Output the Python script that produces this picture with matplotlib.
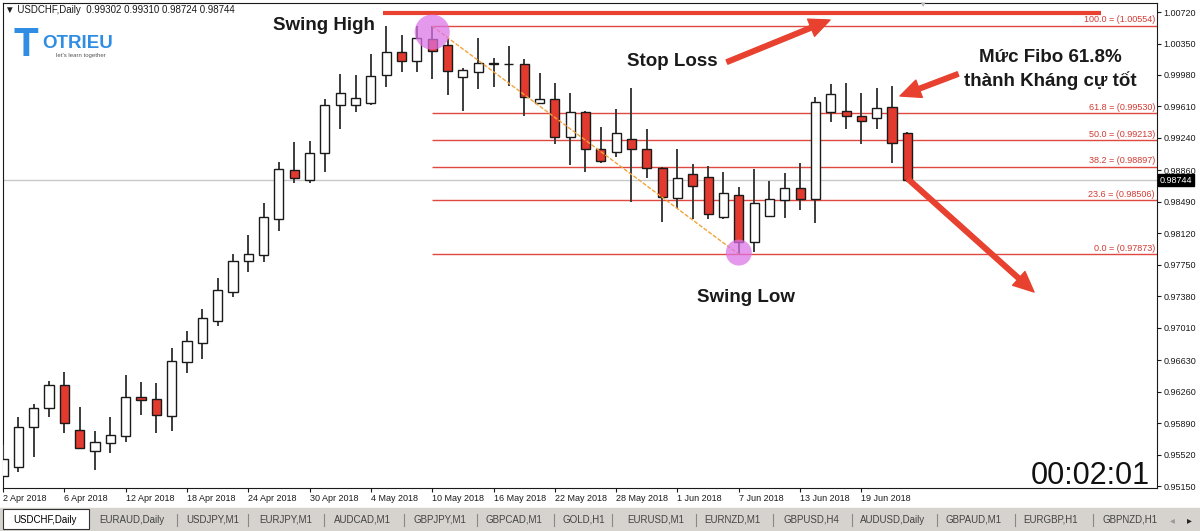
import matplotlib
matplotlib.use("Agg")
import matplotlib.pyplot as plt
from matplotlib.patches import Rectangle

plt.rcParams["font.family"] = ["Liberation Sans", "DejaVu Sans"]

W, H = 1200, 531

# USDCHF daily, 2 Apr 2018 -> 22 Jun 2018 (giá)
opens = [0.95268, 0.95373, 0.95843, 0.96067, 0.96337, 0.95808, 0.95561, 0.95655, 0.95738, 0.96196,
         0.96172, 0.95973, 0.96607, 0.96830, 0.97089, 0.97430, 0.97794, 0.97865, 0.98288, 0.98863,
         0.98746, 0.99063, 0.99627, 0.99627, 0.99651, 0.99980, 1.00250, 1.00144, 1.00403, 1.00332,
         0.99956, 1.00015, 1.00109, 1.00104, 1.00109, 0.99651, 0.99698, 0.99251, 0.99545, 0.99110,
         0.99075, 0.99228, 0.99110, 0.98887, 0.98534, 0.98816, 0.98781, 0.98311, 0.98570, 0.98017,
         0.98323, 0.98511, 0.98652, 0.98523, 0.99545, 0.99557, 0.99498, 0.99474, 0.99604, 0.99302]
highs = [0.95632, 0.95961, 0.96114, 0.96384, 0.96490, 0.96078, 0.95796, 0.95961, 0.96454, 0.96372,
         0.96360, 0.96772, 0.96971, 0.97230, 0.97594, 0.97876, 0.98100, 0.98476, 0.98957, 0.99192,
         0.99204, 0.99698, 0.99991, 0.99980, 1.00226, 1.00555, 1.00450, 1.00555, 1.00554, 1.00403,
         1.00062, 1.00414, 1.00179, 1.00320, 1.00168, 1.00003, 0.99886, 0.99768, 0.99557, 0.99369,
         0.99580, 0.99827, 0.99345, 0.98899, 0.99110, 0.98934, 0.98910, 0.98840, 0.98664, 0.98875,
         0.98734, 0.98828, 0.98946, 0.99721, 0.99874, 0.99886, 0.99768, 0.99827, 0.99850, 0.99310]
lows = [0.95256, 0.95315, 0.95491, 0.95961, 0.95773, 0.95597, 0.95338, 0.95538, 0.95667, 0.95984,
        0.95773, 0.95796, 0.96478, 0.96642, 0.97030, 0.97371, 0.97665, 0.97782, 0.98147, 0.98711,
        0.98711, 0.98840, 0.99345, 0.99545, 0.99627, 0.99839, 1.00015, 1.00015, 0.99933, 0.99745,
        0.99557, 0.99815, 0.99839, 0.99850, 0.99498, 0.99639, 0.99169, 0.98922, 0.98840, 0.98946,
        0.99016, 0.98487, 0.98769, 0.98252, 0.98417, 0.98288, 0.98288, 0.98288, 0.97873, 0.97900,
        0.98323, 0.98299, 0.98393, 0.98241, 0.99427, 0.99345, 0.99169, 0.99345, 0.98946, 0.98724]
closes = [0.95467, 0.95843, 0.96067, 0.96337, 0.95890, 0.95597, 0.95667, 0.95749, 0.96196, 0.96161,
          0.95984, 0.96619, 0.96854, 0.97124, 0.97453, 0.97794, 0.97876, 0.98311, 0.98875, 0.98769,
          0.99063, 0.99627, 0.99768, 0.99709, 0.99968, 1.00250, 1.00144, 1.00414, 1.00262, 1.00027,
          1.00038, 1.00121, 1.00121, 1.00109, 0.99721, 0.99698, 0.99251, 0.99545, 0.99110, 0.98969,
          0.99298, 0.99110, 0.98887, 0.98546, 0.98769, 0.98675, 0.98346, 0.98593, 0.98017, 0.98476,
          0.98523, 0.98652, 0.98523, 0.99662, 0.99756, 0.99498, 0.99439, 0.99592, 0.99181, 0.98744]

date_labels = ["2 Apr 2018", "6 Apr 2018", "12 Apr 2018", "18 Apr 2018", "24 Apr 2018",
               "30 Apr 2018", "4 May 2018", "10 May 2018", "16 May 2018", "22 May 2018",
               "28 May 2018", "1 Jun 2018", "7 Jun 2018", "13 Jun 2018", "19 Jun 2018"]
label_step = 4

price_ticks = [1.00720, 1.00350, 0.99980, 0.99610, 0.99240, 0.98860, 0.98490, 0.98120,
               0.97750, 0.97380, 0.97010, 0.96630, 0.96260, 0.95890, 0.95520, 0.95150]

fib_levels = [0.0, 23.6, 38.2, 50.0, 61.8, 100.0]
fib_prices = [0.97873, 0.98506, 0.98897, 0.99213, 0.99530, 1.00554]
swing_high_bar = 28
swing_low_bar = 48
stop_loss = 1.00708

tabs = ["USDCHF,Daily", "EURAUD,Daily", "USDJPY,M1", "EURJPY,M1", "AUDCAD,M1", "GBPJPY,M1",
        "GBPCAD,M1", "GOLD,H1", "EURUSD,M1", "EURNZD,M1", "GBPUSD,H4", "AUDUSD,Daily",
        "GBPAUD,M1", "EURGBP,H1", "GBPNZD,H1"]
tab_x = [45, 132, 213, 286, 362, 440, 514, 584, 656, 732, 811, 893, 974, 1051, 1130]
tab_sep = [177, 248, 324, 404, 477, 554, 612, 696, 773, 852, 937, 1015, 1093]

RED = "#E23A2F"
FIB = "#E0493F"
ARROW = "#E8412F"
INK = "#1A1A1A"


def px(x, y):
    """toạ độ pixel ảnh gốc -> figure fraction"""
    return x / W, 1 - y / H


fig = plt.figure(figsize=(W / 100, H / 100), dpi=100)
fig.patch.set_facecolor("white")
ax = fig.add_axes([2.5 / W, 1 - 488 / H, (1157 - 2.5) / W, (488 - 3) / H])
ax.set_xlim(-0.03, 75.28)
ax.set_ylim(0.95127, 1.00826)
xmax = ax.get_xlim()[1]

# nến
xs = list(range(len(opens)))
fills = [RED if c < o else "white" for o, c in zip(opens, closes)]
bottoms = [min(o, c) for o, c in zip(opens, closes)]
heights = [max(abs(c - o), 0.00001) for o, c in zip(opens, closes)]
ax.vlines(xs, lows, highs, color="#3C3C3C", lw=1.4, zorder=3)
ax.bar(xs, heights, bottom=bottoms, width=0.6, color=fills, edgecolor=INK, lw=1.0, zorder=4)

# giá hiện tại
ax.axhline(closes[-1], color="#C8C8C8", lw=1.0, zorder=0.5)

# Fibonacci
ax.hlines(fib_prices, swing_high_bar, xmax, color=FIB, lw=1.0, zorder=1)
for lvl, p in zip(fib_levels, fib_prices):
    ax.annotate(f"{lvl:.1f} = ({p:.5f})", xy=(xmax, p), xytext=(-1.5, 1.2),
                textcoords="offset points", ha="right", va="bottom",
                fontsize=6.5, color="#D23A32", annotation_clip=False)
ax.plot([swing_high_bar, swing_low_bar], [fib_prices[-1], fib_prices[0]],
        color="#F2A33A", lw=1.0, ls=(0, (3, 1.2)), zorder=5)

# đường stop loss
ax.hlines(stop_loss, 24.8, 71.6, color=ARROW, lw=3.0, zorder=6)

# vòng tròn swing
ax.scatter([swing_high_bar], [highs[swing_high_bar] - 0.0007], s=640, color="#DC72E6",
           alpha=0.72, edgecolors="none", zorder=7)
ax.scatter([swing_low_bar], [lows[swing_low_bar] + 0.0002], s=350, color="#DC72E6",
           alpha=0.72, edgecolors="none", zorder=7)

# trục
ax.yaxis.tick_right()
ax.set_yticks(price_ticks)
ax.set_yticklabels([f"{p:.5f}" for p in price_ticks])
ax.tick_params(axis="y", length=3, width=0.8, pad=1.5, labelsize=6.5, colors=INK)
ax.set_xticks(xs[::label_step])
ax.set_xticklabels(date_labels, ha="left")
ax.tick_params(axis="x", length=3, width=0.8, pad=1.5, labelsize=6.5, colors=INK)
for s in ax.spines.values():
    s.set_color(INK)
    s.set_linewidth(0.8)

ax.annotate(f"{closes[-1]:.5f}", xy=(1, closes[-1]), xycoords=("axes fraction", "data"),
            xytext=(2, 0), textcoords="offset points", ha="left", va="center",
            fontsize=6.5, color="white", annotation_clip=False,
            bbox=dict(boxstyle="square,pad=0.15", fc="black", ec="black"))

# tiêu đề / logo
fig.text(*px(5, 13), f"\u25bc USDCHF,Daily  {opens[-1]:.5f} {highs[-1]:.5f} {lows[-1]:.5f} {closes[-1]:.5f}",
         fontsize=7, color=INK, va="baseline")
fig.text(*px(922, 7), "\u25bc", fontsize=6, color="#BBBBBB", ha="center", va="baseline")
fig.text(*px(13, 56), "T", fontsize=29, fontweight="heavy", color="#2F8DE4", va="baseline")
fig.text(*px(42, 48), "OTRIEU", fontsize=13.5, fontweight="bold", color="#2F8DE4", va="baseline")
fig.text(*px(56, 57), "let's learn together", fontsize=4.3, color="#555555", va="baseline")

# chú thích
ann = dict(fontsize=13.5, fontweight="bold", color=INK, ha="center", va="center")
fig.text(*px(324, 26), "Swing High", **ann)
fig.text(*px(672, 61), "Stop Loss", **ann)
fig.text(*px(746, 298), "Swing Low", **ann)
fig.text(*px(1050, 57), "Mức Fibo 61.8%", **ann)
fig.text(*px(1050, 81), "thành Kháng cự tốt", **ann)

arrowstyle = "simple,head_length=1.05,head_width=0.95,tail_width=0.24"
for tail, tip in [((727, 62), (830, 20)), ((958, 74), (900, 96)), ((908, 179), (1034, 292))]:
    ax.annotate("", xy=px(*tip), xycoords="figure fraction", xytext=px(*tail),
                textcoords="figure fraction", annotation_clip=False,
                arrowprops=dict(arrowstyle=arrowstyle, color=ARROW, mutation_scale=14,
                                shrinkA=0, shrinkB=0), zorder=8)

fig.text(*px(1150, 484), "00:02:01", fontsize=22, color="#111111", ha="right", va="baseline")

# thanh tab
fig.add_artist(Rectangle((0, 0), 1, 23 / H, transform=fig.transFigure, color="#D6D3CE", zorder=0))
fig.add_artist(Rectangle(px(3, 529), 86 / W, 20 / H, transform=fig.transFigure,
                         fc="white", ec="#333333", lw=0.8, zorder=1))
for i, (name, x) in enumerate(zip(tabs, tab_x)):
    fig.text(*px(x, 520), name, fontsize=7, ha="center", va="center",
             color="black" if i == 0 else "#444444")
for x in tab_sep:
    fig.add_artist(plt.Line2D([x / W, x / W], [5 / H, 17 / H], color="#888888", lw=0.8,
                              transform=fig.transFigure))
fig.text(*px(1172, 520), "\u25c2", fontsize=7, ha="center", va="center", color="#999999")
fig.text(*px(1189, 520), "\u25b8", fontsize=7, ha="center", va="center", color="#222222")

fig.savefig("out.png", dpi=100, facecolor="white")
